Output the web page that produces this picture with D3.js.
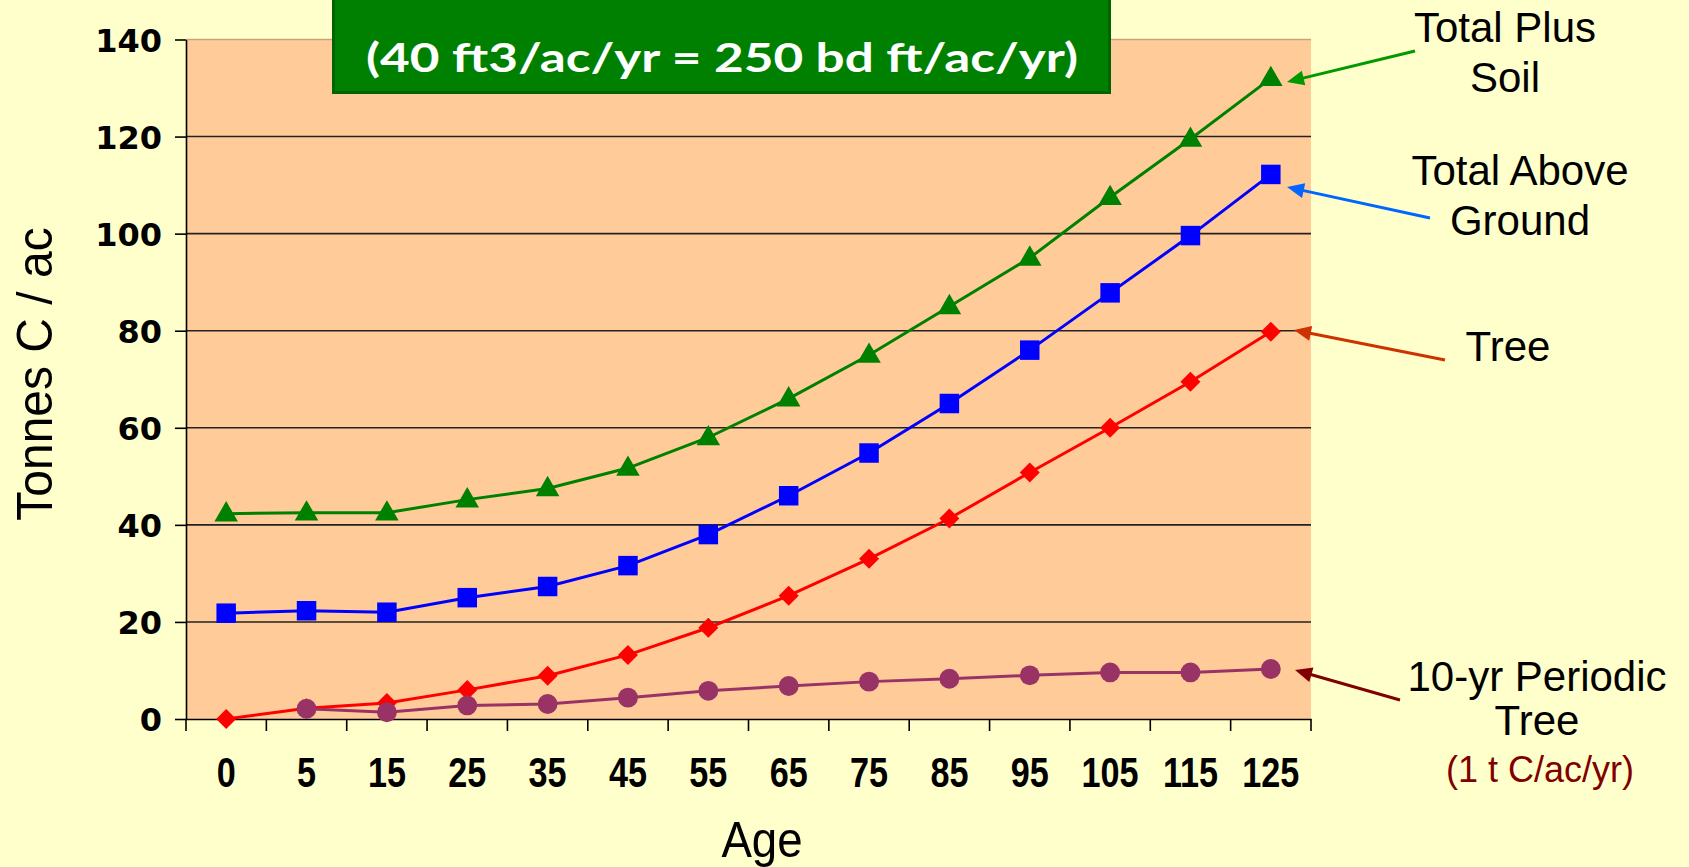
<!DOCTYPE html>
<html>
<head>
<meta charset="utf-8">
<script src="https://cdn.jsdelivr.net/npm/d3@7"></script>
<style>
  html, body { margin: 0; padding: 0; background: #FFFFCC; }
  svg { display: block; }
</style>
</head>
<body>
<svg id="chart" width="1689" height="867"></svg>
<script>
// ---------------- DATA ----------------
const ages = ["0", "5", "15", "25", "35", "45", "55", "65", "75", "85", "95", "105", "115", "125"];
const totalPlusSoil = [42.3, 42.5, 42.5, 45.2, 47.5, 51.7, 58.0, 66.0, 75.0, 85.0, 95.0, 107.5, 119.5, 132.0];
const totalAboveGround = [21.8, 22.3, 22.0, 25.0, 27.3, 31.6, 38.0, 46.0, 54.8, 65.0, 76.0, 87.8, 99.6, 112.2];
const tree = [0.0, 2.2, 3.3, 6.0, 8.9, 13.2, 18.8, 25.4, 33.0, 41.3, 50.8, 60.0, 69.5, 79.8];
const periodicTree = [null, 2.1, 1.4, 2.8, 3.1, 4.4, 5.8, 6.8, 7.7, 8.3, 9.0, 9.6, 9.6, 10.3];
const yTicks = [0, 20, 40, 60, 80, 100, 120, 140];

const titleLine = "(40 ft3/ac/yr = 250 bd ft/ac/yr)";
const yTitle = "Tonnes C / ac";
const xTitle = "Age";
const periodicNote = "(1 t C/ac/yr)";

const series = [
  { name: "Total Plus Soil", values: totalPlusSoil, color: "#008000", marker: "triangle" },
  { name: "Total Above Ground", values: totalAboveGround, color: "#0000FF", marker: "square" },
  { name: "Tree", values: tree, color: "#FF0000", marker: "diamond" },
  { name: "10-yr Periodic Tree", values: periodicTree, color: "#993366", marker: "circle" }
];

// annotation labels (text lines) with arrows pointing to the last point of each series
const annotations = [
  { lines: ["Total Plus", "Soil"], cx: 1505, baselines: [42, 92], arrowColor: "#009900",
    from: [1415, 51], tip: [1287, 82] },
  { lines: ["Total Above", "Ground"], cx: 1520, baselines: [185, 235], arrowColor: "#0066FF",
    from: [1430, 218], tip: [1287, 187] },
  { lines: ["Tree"], cx: 1508, baselines: [361], arrowColor: "#CC3300",
    from: [1445, 360], tip: [1294, 330] },
  { lines: ["10-yr Periodic", "Tree"], cx: 1537, baselines: [691, 735], arrowColor: "#800000",
    from: [1400, 700], tip: [1295, 670] }
];

// ---------------- LAYOUT ----------------
const svg = d3.select("#chart");
const W = 1689, H = 867;
const plot = { left: 186, right: 1311, top: 39.5, bottom: 719 };

svg.append("rect").attr("width", W).attr("height", H).attr("fill", "#FFFFCC");

const x = d3.scaleBand().domain(ages).range([plot.left, plot.right]).paddingInner(0).paddingOuter(0);
const y = d3.scaleLinear().domain([0, 140]).range([plot.bottom, plot.top]);
const cx = d => x(d) + x.bandwidth() / 2;

// plot area
svg.append("rect")
  .attr("x", plot.left).attr("y", y(140))
  .attr("width", plot.right - plot.left).attr("height", y(0) - y(140))
  .attr("fill", "#FFCC99");

// top border (140)
svg.append("line")
  .attr("x1", plot.left).attr("x2", plot.right)
  .attr("y1", y(140)).attr("y2", y(140))
  .attr("stroke", "#C9A27C").attr("stroke-width", 1.5);

// gridlines
svg.append("g").selectAll("line")
  .data(yTicks.filter(v => v > 0 && v < 140))
  .join("line")
  .attr("x1", plot.left).attr("x2", plot.right)
  .attr("y1", d => y(d)).attr("y2", d => y(d))
  .attr("stroke", "#222").attr("stroke-width", 1.6);

// Y axis
const yAxis = svg.append("g")
  .attr("transform", `translate(${plot.left},0)`)
  .call(d3.axisLeft(y).tickValues(yTicks).tickSize(11).tickPadding(13).tickSizeOuter(0));
yAxis.select(".domain").attr("stroke", "#000").attr("stroke-width", 1.6);
yAxis.selectAll(".tick line").attr("stroke", "#000").attr("stroke-width", 1.6);
yAxis.selectAll(".tick text")
  .attr("fill", "#000")
  .attr("dy", "0.36em")
  .style("font-family", "'DejaVu Sans', Verdana, sans-serif")
  .style("font-weight", "bold")
  .style("font-size", "32px");

// X axis (labels at band centres)
const xAxis = svg.append("g")
  .attr("transform", `translate(0,${plot.bottom})`)
  .call(d3.axisBottom(x).tickSize(0).tickSizeOuter(0));
xAxis.select(".domain").attr("stroke", "#000").attr("stroke-width", 1.6);
xAxis.selectAll(".tick text")
  .attr("y", 0).attr("dy", null)
  .attr("transform", "translate(0,68) scale(0.95,1.17)")
  .attr("fill", "#000")
  .style("font-family", "'Liberation Sans', Arial, sans-serif")
  .style("font-weight", "bold")
  .style("font-size", "36px");

// X tick marks at band boundaries
const boundaries = ages.map(a => x(a)).concat([x(ages[ages.length - 1]) + x.bandwidth()]);
xAxis.append("g").selectAll("line")
  .data(boundaries)
  .join("line")
  .attr("x1", d => d).attr("x2", d => d)
  .attr("y1", 0).attr("y2", 12)
  .attr("stroke", "#000").attr("stroke-width", 1.6);

// axis titles
svg.append("text")
  .attr("transform", `translate(52,374) rotate(-90) scale(1,1.05)`)
  .attr("text-anchor", "middle")
  .style("font-family", "'Liberation Sans', Arial, sans-serif")
  .style("font-size", "48px")
  .attr("fill", "#000")
  .text(yTitle);

svg.append("text")
  .attr("transform", "translate(762,857) scale(0.97,1.08)")
  .attr("text-anchor", "middle")
  .style("font-family", "'Liberation Sans', Arial, sans-serif")
  .style("font-size", "47px")
  .attr("fill", "#000")
  .text(xTitle);

// ---------------- SERIES ----------------
const line = d3.line()
  .defined(d => d.v !== null)
  .x(d => cx(d.a))
  .y(d => y(d.v));

const diamondPath = "M0,-10L10,0L0,10L-10,0Z";
const sym = {
  triangle: d3.symbol().type(d3.symbolTriangle).size(240),
  square: d3.symbol().type(d3.symbolSquare).size(380),
  diamond: () => diamondPath,
  circle: d3.symbol().type(d3.symbolCircle).size(310)
};

series.forEach(s => {
  const pts = ages.map((a, i) => ({ a, v: s.values[i] }));
  const g = svg.append("g");
  g.append("path")
    .datum(pts)
    .attr("d", line)
    .attr("fill", "none")
    .attr("stroke", s.color)
    .attr("stroke-width", 3);
  g.selectAll("path.m")
    .data(pts.filter(d => d.v !== null))
    .join("path")
    .attr("class", "m")
    .attr("transform", d => `translate(${cx(d.a)},${y(d.v) + (s.marker === "triangle" ? 1 : 0)})`)
    .attr("d", sym[s.marker])
    .attr("fill", s.color);
});

// ---------------- TITLE BOX ----------------
svg.append("rect")
  .attr("x", 333.5).attr("y", -10)
  .attr("width", 776).attr("height", 102.5)
  .attr("fill", "#008000")
  .attr("stroke", "#006400").attr("stroke-width", 3);

svg.append("text")
  .attr("x", 722).attr("y", 72)
  .attr("text-anchor", "middle")
  .attr("textLength", 712).attr("lengthAdjust", "spacingAndGlyphs")
  .style("font-family", "'Comic Sans MS', Lato, sans-serif")
  .style("font-weight", "bold")
  .style("font-size", "40px")
  .attr("fill", "#FFFFFF")
  .text(titleLine);

// ---------------- ANNOTATIONS ----------------
annotations.forEach(a => {
  a.lines.forEach((t, i) => {
    svg.append("text")
      .attr("x", a.cx).attr("y", a.baselines[i])
      .attr("text-anchor", "middle")
      .style("font-family", "'Liberation Sans', Arial, sans-serif")
      .style("font-size", "42px")
      .attr("fill", "#000")
      .text(t);
  });
  const dx = a.tip[0] - a.from[0], dy = a.tip[1] - a.from[1];
  const len = Math.hypot(dx, dy);
  const ux = dx / len, uy = dy / len, nx = -uy, ny = ux;
  const headL = 17, headW = 7.5;
  svg.append("line")
    .attr("x1", a.from[0]).attr("y1", a.from[1])
    .attr("x2", a.tip[0] - ux * 10).attr("y2", a.tip[1] - uy * 10)
    .attr("stroke", a.arrowColor).attr("stroke-width", 3);
  const bx = a.tip[0] - ux * headL, by = a.tip[1] - uy * headL;
  svg.append("polygon")
    .attr("points", [[a.tip[0], a.tip[1]], [bx + nx * headW, by + ny * headW], [bx - nx * headW, by - ny * headW]].map(p => p.join(",")).join(" "))
    .attr("fill", a.arrowColor);
});

svg.append("text")
  .attr("x", 1540).attr("y", 782)
  .attr("text-anchor", "middle")
  .style("font-family", "'Liberation Sans', Arial, sans-serif")
  .style("font-size", "36px")
  .attr("fill", "#800000")
  .text(periodicNote);
</script>
</body>
</html>
